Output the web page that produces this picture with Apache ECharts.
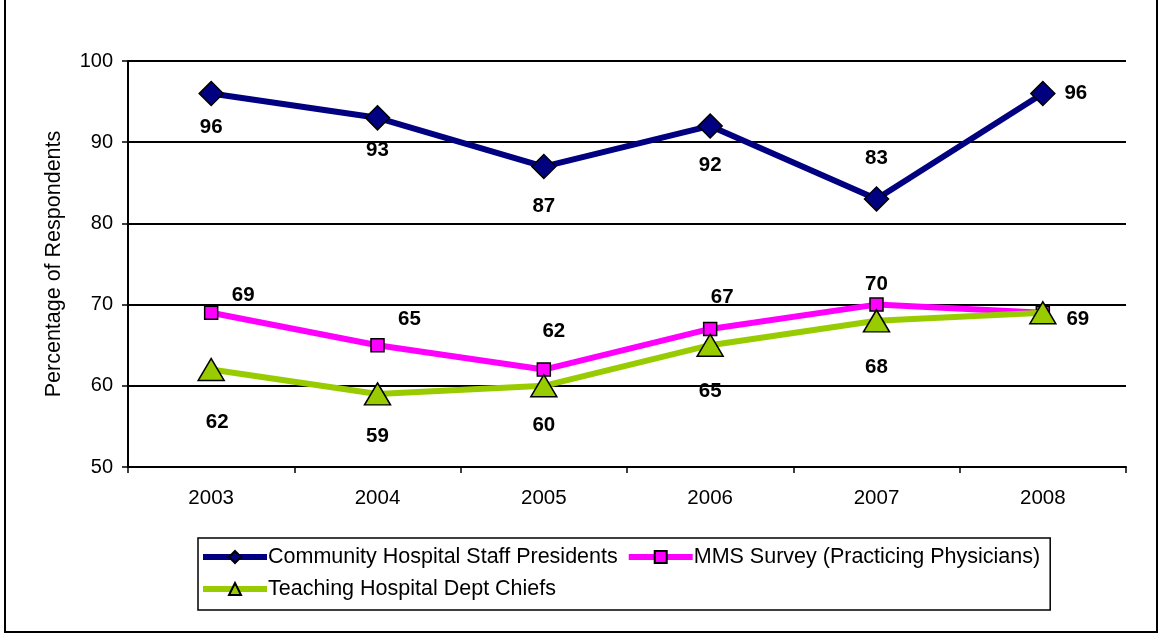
<!DOCTYPE html>
<html>
<head>
<meta charset="utf-8">
<script src="https://cdn.jsdelivr.net/npm/echarts@6/dist/echarts.min.js"></script>
<style>
  html, body { margin: 0; padding: 0; background: #fff; }
  #chart { width: 1159px; height: 635px; }
</style>
</head>
<body>
<div id="chart"></div>
<script>
const years = ['2003', '2004', '2005', '2006', '2007', '2008']
const communityPresidents = [96, 93, 87, 92, 83, 96]
const mmsSurvey = [69, 65, 62, 67, 70, 69]
const teachingChiefs = [62, 59, 60, 65, 68, 69]

// label offsets from each point, picked to sit where the original puts them
const communityOffsets = [[0, 34], [0, 33], [0, 40], [0, 39], [0, -41], [33, 0]]
const mmsOffsets = [[32, -17], [32, -26], [10, -38], [12, -32], [0, -20], [35, 7]]
const teachingOffsets = [[6, 53], [0, 42], [0, 40], [0, 46], [0, 47], null]

const FONT = 'Liberation Sans, Arial, sans-serif'

function withLabels(values, offsets) {
  return values.map((value, i) => {
    const off = offsets[i]
    if (!off) return { value, label: { show: false } }
    return { value, label: { show: true, position: 'inside', offset: off } }
  })
}

const labelStyle = {
  color: '#000',
  fontFamily: FONT,
  fontSize: 20.5,
  fontWeight: 'bold',
  formatter: '{c}',
}

const chart = echarts.init(document.getElementById('chart'))
chart.setOption({
  animation: false,
  backgroundColor: '#fff',
  graphic: [
    {
      type: 'rect',
      shape: { x: 5, y: -5, width: 1152, height: 637 },
      style: { fill: 'none', stroke: '#000', lineWidth: 2 },
      silent: true,
    },
  ],
  legend: {
    left: 198,
    top: 538,
    width: 850,
    padding: [7, 10, 9, 2],
    itemGap: 8,
    itemWidth: 64,
    itemHeight: 15,
    borderColor: '#000',
    borderWidth: 1.5,
    lineStyle: { width: 6 },
    textStyle: { fontFamily: FONT, fontSize: 21.5, lineHeight: 24, color: '#000', padding: [0, 0, 0, -4] },
  },
  grid: { left: 128, right: 33, top: 61, bottom: 168 },
  xAxis: {
    type: 'category',
    data: years,
    boundaryGap: true,
    axisLine: { lineStyle: { color: '#000', width: 2 } },
    axisTick: { show: true, length: 6, lineStyle: { color: '#000', width: 1.5 } },
    axisLabel: { color: '#000', fontFamily: FONT, fontSize: 20.5, margin: 21 },
    splitLine: { show: false },
  },
  yAxis: {
    type: 'value',
    min: 50,
    max: 100,
    interval: 10,
    name: 'Percentage of Respondents',
    nameLocation: 'middle',
    nameGap: 63,
    nameTextStyle: { color: '#000', fontFamily: FONT, fontSize: 21.5 },
    axisLine: { show: true, lineStyle: { color: '#000', width: 2 } },
    axisTick: { show: true, length: 6, lineStyle: { color: '#000', width: 1.5 } },
    axisLabel: { color: '#000', fontFamily: FONT, fontSize: 20, margin: 15 },
    splitLine: { show: true, lineStyle: { color: '#000', width: 2 } },
  },
  series: [
    {
      name: 'Community Hospital Staff Presidents',
      type: 'line',
      data: withLabels(communityPresidents, communityOffsets),
      symbol: 'diamond',
      symbolSize: [24, 24],
      lineStyle: { color: '#000080', width: 6 },
      itemStyle: { color: '#000080', borderColor: '#000', borderWidth: 1.5 },
      label: labelStyle,
      z: 3,
    },
    {
      name: 'MMS Survey (Practicing Physicians)',
      type: 'line',
      data: withLabels(mmsSurvey, mmsOffsets),
      symbol: 'rect',
      symbolSize: 13,
      lineStyle: { color: '#ff00ff', width: 6 },
      itemStyle: { color: '#ff00ff', borderColor: '#000', borderWidth: 1.5 },
      label: labelStyle,
      z: 2,
    },
    {
      name: 'Teaching Hospital Dept Chiefs',
      type: 'line',
      data: withLabels(teachingChiefs, teachingOffsets),
      symbol: 'triangle',
      symbolSize: [26, 22],
      lineStyle: { color: '#99cc00', width: 6 },
      itemStyle: { color: '#99cc00', borderColor: '#000', borderWidth: 1.5 },
      label: labelStyle,
      z: 4,
    },
  ],
})
</script>
</body>
</html>
